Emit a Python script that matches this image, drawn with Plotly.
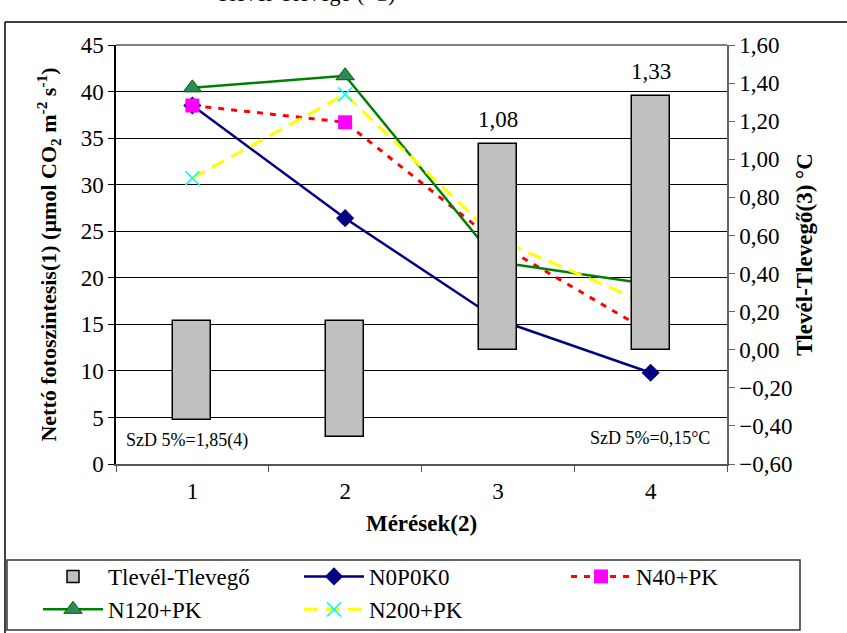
import plotly.graph_objects as go

# ---- data ----
meresek = ["1", "2", "3", "4"]
tlevel_tlevego = [-0.37, -0.46, 1.08, 1.33]   # bar end values (right axis)
tlevel_base = [0.15, 0.15, 0.0, 0.0]          # where each bar starts (right axis)
n0p0k0 = [38.5, 26.4, 15.5, 9.8]
n40pk = [38.5, 36.7, 23.7, 14.1]
n120pk = [40.4, 41.7, 21.7, 19.3]
n200pk = [30.7, 39.7, 24.1, 17.1]
left_ticks = [0, 5, 10, 15, 20, 25, 30, 35, 40, 45]
right_ticks = [-0.6, -0.4, -0.2, 0.0, 0.2, 0.4, 0.6, 0.8, 1.0, 1.2, 1.4, 1.6]

SERIF = "Liberation Serif, Times New Roman, serif"
W, H = 847, 633
L, R, T, B = 116, 727, 45, 464


def px(x):
    return (x - L) / (R - L)


def py(y):
    return (B - y) / (B - T)


fig = go.Figure()
fig.add_trace(go.Bar(
    x=meresek, y=[v - b for v, b in zip(tlevel_tlevego, tlevel_base)], base=tlevel_base,
    name="Tlevél-Tlevegő", yaxis="y2", legend="legend",
    width=0.25, marker=dict(color="#C0C0C0", line=dict(color="black", width=1.5)),
))
fig.add_trace(go.Scatter(
    x=meresek, y=n0p0k0, name="N0P0K0", mode="lines+markers", legend="legend",
    line=dict(color="#000080", width=2.5),
    marker=dict(symbol="diamond", size=14, color="#000080"),
))
fig.add_trace(go.Scatter(
    x=meresek, y=n40pk, name="N40+PK", mode="lines+markers", legend="legend2",
    line=dict(color="#FF0000", width=3, dash="6px,7px"),
    marker=dict(symbol="square", size=14, color="#FF00FF"),
))
fig.add_trace(go.Scatter(
    x=meresek, y=n120pk, name="N120+PK", mode="lines+markers", legend="legend",
    line=dict(color="#008000", width=2.5),
    marker=dict(symbol="triangle-up", size=16, color="#2E8B57",
                line=dict(color="#006400", width=1)),
))
fig.add_trace(go.Scatter(
    x=meresek, y=n200pk, name="N200+PK", mode="lines+markers", legend="legend",
    line=dict(color="#FFFF00", width=3, dash="14px,8px"),
    marker=dict(symbol="x-thin", size=14, line=dict(color="#00FFFF", width=1.5)),
))

shapes = [
    dict(type="line", xref="paper", yref="paper", x0=0, x1=1, y0=1, y1=1,
         line=dict(color="black", width=1)),
    dict(type="line", xref="paper", yref="paper", x0=px(5), x1=px(5), y0=py(640), y1=py(22),
         line=dict(color="black", width=1.5)),
    dict(type="line", xref="paper", yref="paper", x0=px(5), x1=px(860), y0=py(22), y1=py(22),
         line=dict(color="black", width=1.5)),
    dict(type="rect", xref="paper", yref="paper", x0=px(7), x1=px(800), y0=py(630), y1=py(560),
         line=dict(color="#333333", width=1.5), fillcolor="rgba(0,0,0,0)"),
]

annotations = [
    dict(text="SzD 5%=1,85(4)", xref="paper", yref="paper", x=px(124), y=py(440),
         xanchor="left", yanchor="middle", showarrow=False,
         font=dict(family=SERIF, size=18, color="black")),
    dict(text="SzD 5%=0,15°C", xref="paper", yref="paper", x=px(712), y=py(438),
         xanchor="right", yanchor="middle", showarrow=False,
         font=dict(family=SERIF, size=18, color="black")),
    dict(text="Tlevél-Tlevegő (°C)", xref="paper", yref="paper", x=px(305), y=py(8),
         xanchor="center", yanchor="bottom", showarrow=False,
         font=dict(family=SERIF, size=22, color="black")),
]
# value labels above the positive bars
for i, v in enumerate(tlevel_tlevego):
    if v > 0:
        annotations.append(dict(
            text=f"{v:.2f}".replace(".", ","), xref="x", yref="y2", x=i, y=v,
            xanchor="center", yanchor="bottom", yshift=10, showarrow=False,
            font=dict(family=SERIF, size=23, color="black")))

legend_common = dict(orientation="h", yanchor="top", xanchor="left",
                     entrywidth=186, entrywidthmode="pixels", bgcolor="rgba(0,0,0,0)",
                     font=dict(family=SERIF, size=23, color="black"), itemwidth=60,
                     tracegroupgap=0)

fig.update_layout(
    width=W, height=H,
    margin=dict(l=L, r=W - R, t=T, b=H - B, pad=0, autoexpand=False),
    paper_bgcolor="white", plot_bgcolor="white",
    separators=", ",
    font=dict(family=SERIF, size=23, color="black"),
    showlegend=True,
    legend=dict(x=px(38), y=py(555), **legend_common),
    legend2=dict(x=px(566), y=py(555), **legend_common),
    xaxis=dict(type="category", tickson="boundaries", ticks="outside", ticklen=6,
               tickcolor="#555", showline=True, linecolor="#555", linewidth=1.5,
               showgrid=False, tickfont=dict(family=SERIF, size=23),
               ticklabelstandoff=6,
               title=dict(text="Mérések(2)", standoff=12,
                          font=dict(family=SERIF, size=23, weight="bold"))),
    yaxis=dict(range=[0, 45], tickvals=left_ticks, ticks="outside", ticklen=6,
               tickcolor="black", showline=True, linecolor="black", linewidth=1.5,
               showgrid=True, gridcolor="black", gridwidth=1, zeroline=False,
               tickfont=dict(family=SERIF, size=23),
               title=dict(text="Nettó fotoszintesis(1) (µmol CO<sub>2</sub> m<sup>-2</sup> s<sup>-1</sup>)",
                          standoff=18, font=dict(family=SERIF, size=22, weight="bold"))),
    yaxis2=dict(range=[-0.6, 1.6], tickvals=right_ticks, tickformat=".2f",
                overlaying="y", side="right", ticks="outside", ticklen=6,
                tickcolor="#666", showline=True, linecolor="#666", linewidth=1.5,
                showgrid=False, zeroline=False, tickfont=dict(family=SERIF, size=23),
                title=dict(text="Tlevél-Tlevegő(3) °C", standoff=4,
                           font=dict(family=SERIF, size=23, weight="bold"))),
    shapes=shapes,
    annotations=annotations,
    bargap=0,
)

fig.write_html("out.html", config={"displayModeBar": False},
               post_script="document.body.style.margin='0';")
